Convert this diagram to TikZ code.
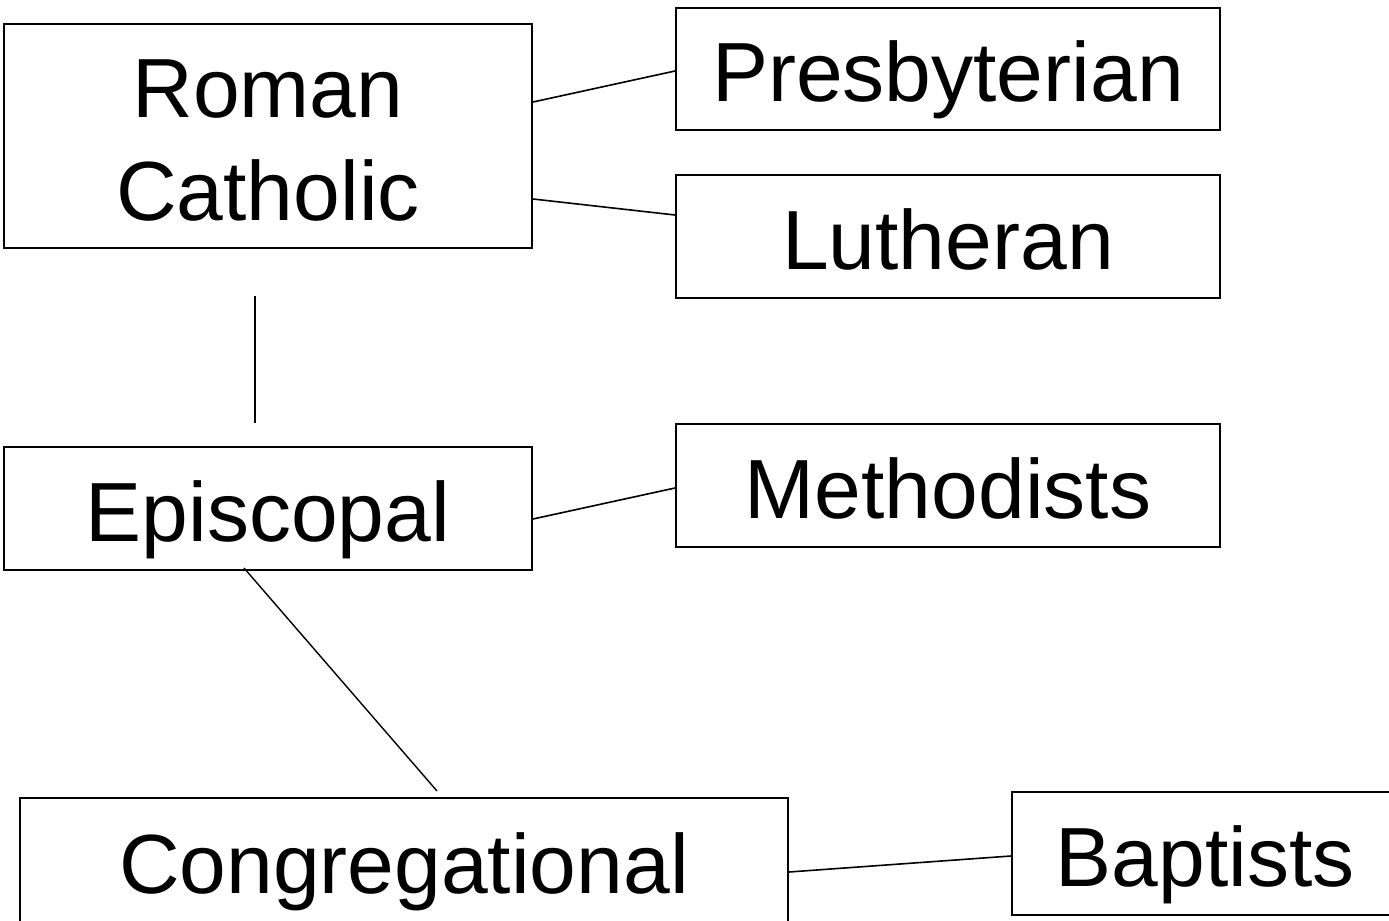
\documentclass[tikz,border=0pt]{standalone}
\usepackage{fontspec}
\setmainfont{Liberation Sans}
\begin{document}
\begin{tikzpicture}[x=0.5pt,y=-0.5pt,
        church/.style={draw, line width=1pt, inner sep=0pt, align=center,
            text height=38pt, text depth=5.5pt,
            font=\fontsize{42}{51.5}\selectfont}]
        \useasboundingbox (0,0) rectangle (1389,921) ;
        \node[church, minimum width=264pt, minimum height=112pt, text height=89.5pt] (roman) at (268,136) {Roman\\Catholic} ;
        \node[church, minimum width=272pt, minimum height=61pt] (presb) at (948,69) {Presbyterian} ;
        \node[church, minimum width=272pt, minimum height=61.5pt] (luth) at (948,236.5) {Lutheran} ;
        \node[church, minimum width=264pt, minimum height=61.5pt] (episc) at (268,508.5) {Episcopal} ;
        \node[church, minimum width=272pt, minimum height=61.5pt] (meth) at (948,485.5) {Methodists} ;
        \node[church, minimum width=384pt, minimum height=66pt, text depth=9pt] (congr) at (404,864) {Congregational} ;
        \node[church, minimum width=193pt, minimum height=61.5pt] (bapt) at (1205,853.5) {Baptists} ;
        \draw[line width=0.8pt] ([yshift=17pt]roman.east) -- ([yshift=-1pt]presb.west) ;
        \draw[line width=0.8pt] ([yshift=-31.5pt]roman.east) -- ([yshift=10.75pt]luth.west) ;
        \draw[line width=0.7pt, shorten <=23.5pt, shorten >=11.5pt] ([xshift=-6.5pt]roman.south) -- ([xshift=-6.5pt]episc.north) ;
        \draw[line width=0.8pt] ([yshift=-5.25pt]episc.east) -- ([yshift=-1.25pt]meth.west) ;
        \draw[line width=0.7pt] ([xshift=-12pt,yshift=1.5pt]episc.south) -- ([xshift=16.5pt,yshift=3pt]congr.north) ;
        \draw[line width=0.8pt] ([yshift=-4pt]congr.east) -- ([yshift=-1.25pt]bapt.west) ;
\end{tikzpicture}
\end{document}
